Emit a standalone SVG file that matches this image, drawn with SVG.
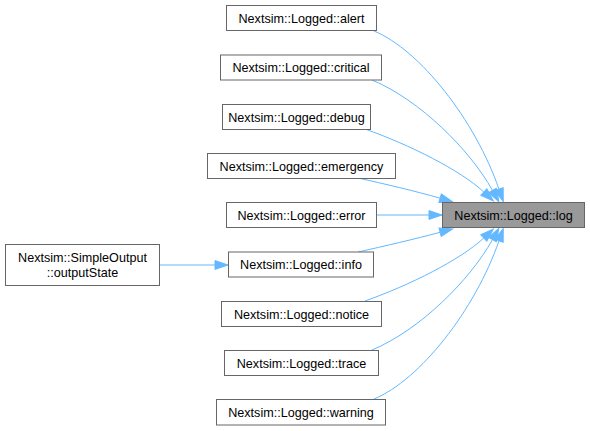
<svg xmlns="http://www.w3.org/2000/svg" width="590" height="431" viewBox="0 0 590 431">
<style>
.n rect{fill:#ffffff;stroke:#666666;stroke-width:1}
.n.hl rect{fill:#999999}
.n text{font-family:"Liberation Sans",Arial,sans-serif;font-size:12.6px;fill:#000000;text-anchor:middle}
.e path{fill:none;stroke:#63b8ff;stroke-width:1}
</style>
<defs>
<marker id="ah" markerUnits="userSpaceOnUse" markerWidth="14" markerHeight="10" refX="0" refY="5" orient="auto" overflow="visible">
<path d="M0,0.6 L13,5 L0,9.4 Z" fill="#63b8ff" stroke="#63b8ff" stroke-width="1"/>
</marker>
</defs>
<rect width="590" height="431" fill="#ffffff"/>
<g id="edges" class="e">
<path d="M374,31 C420,50 475,120 499,189.2" marker-end="url(#ah)"/>
<path d="M372,80 C420,100 470,150 492.5,190.4" marker-end="url(#ah)"/>
<path d="M365,129 C410,145 460,170 483.8,192" marker-end="url(#ah)"/>
<path d="M358,178 C385,184 415,191 440.1,198.2" marker-end="url(#ah)"/>
<path d="M376,215 L429,215" marker-end="url(#ah)"/>
<path d="M358,252 C385,246 415,239 440.1,232.3" marker-end="url(#ah)"/>
<path d="M365,301 C410,285 460,260 483.8,238" marker-end="url(#ah)"/>
<path d="M372,350 C420,330 470,280 492.5,239.6" marker-end="url(#ah)"/>
<path d="M374,399 C420,380 475,310 499,240.8" marker-end="url(#ah)"/>
<path d="M160,265 L215,265" marker-end="url(#ah)"/>
</g>
<g id="node-log" class="n hl"><rect x="442.5" y="202.5" width="142" height="25"/><text x="513.5" y="219.5">Nextsim::Logged::log</text></g>
<g id="node-alert" class="n"><rect x="226.5" y="5.5" width="150" height="25"/><text x="301.5" y="22.5">Nextsim::Logged::alert</text></g>
<g id="node-critical" class="n"><rect x="220.5" y="55" width="161" height="25"/><text x="301" y="72">Nextsim::Logged::critical</text></g>
<g id="node-debug" class="n"><rect x="222.5" y="104.5" width="148" height="25"/><text x="296.5" y="121.5">Nextsim::Logged::debug</text></g>
<g id="node-emergency" class="n"><rect x="207.5" y="153.5" width="188" height="25"/><text x="301.5" y="170.5">Nextsim::Logged::emergency</text></g>
<g id="node-error" class="n"><rect x="226.5" y="202.5" width="150" height="25"/><text x="301.5" y="219.5">Nextsim::Logged::error</text></g>
<g id="node-info" class="n"><rect x="228.5" y="252" width="145" height="25"/><text x="301" y="269">Nextsim::Logged::info</text></g>
<g id="node-notice" class="n"><rect x="221.5" y="301.5" width="160" height="25"/><text x="301.5" y="318.5">Nextsim::Logged::notice</text></g>
<g id="node-trace" class="n"><rect x="224.5" y="350.5" width="154" height="25"/><text x="301.5" y="367.5">Nextsim::Logged::trace</text></g>
<g id="node-warning" class="n"><rect x="216.5" y="399.5" width="169" height="25.5"/><text x="301" y="416.5">Nextsim::Logged::warning</text></g>
<g id="node-outputState" class="n"><rect x="5.5" y="244.5" width="154" height="41"/><text x="82.5" y="262">Nextsim::SimpleOutput</text><text x="82.5" y="277">::outputState</text></g>
</svg>
